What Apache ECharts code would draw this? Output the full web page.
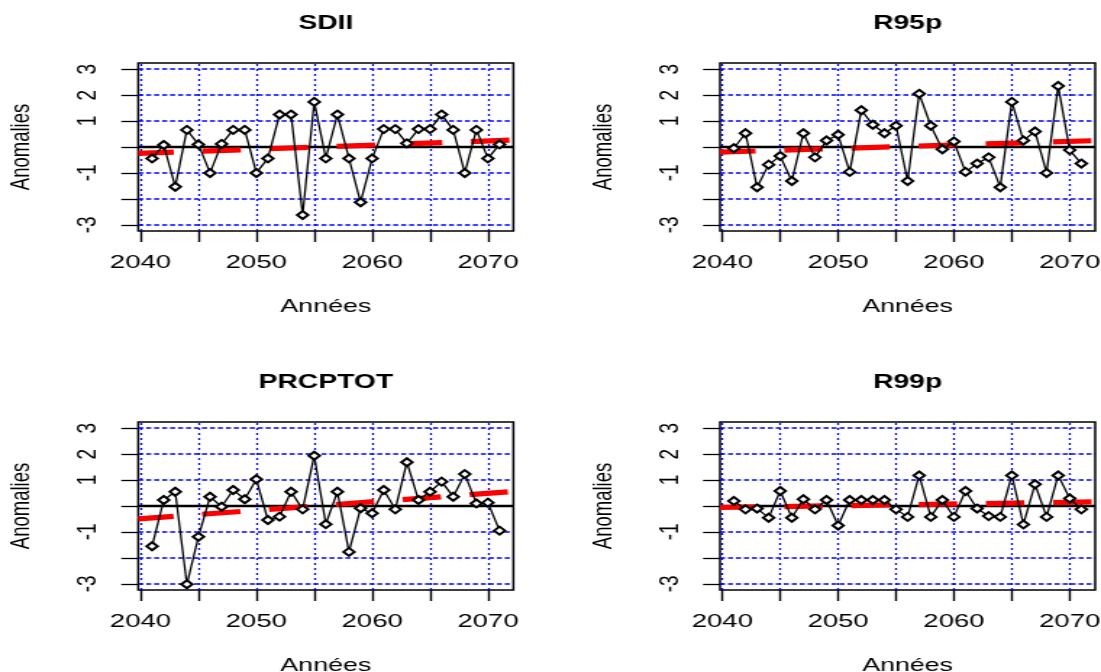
<!DOCTYPE html>
<html>
<head>
<meta charset="utf-8">
<script src="https://cdn.jsdelivr.net/npm/echarts@6/dist/echarts.min.js"></script>
<style>
html,body{margin:0;padding:0;overflow:hidden;background:#fff;}
#c{width:760px;height:672px;transform:scaleX(1.448684);transform-origin:0 0;}
</style>
</head>
<body>
<div id="c"></div>
<script>
// ---- data ----
const years = [2041,2042,2043,2044,2045,2046,2047,2048,2049,2050,2051,2052,2053,2054,2055,2056,
               2057,2058,2059,2060,2061,2062,2063,2064,2065,2066,2067,2068,2069,2070,2071];
const titles = ['SDII', 'R95p', 'PRCPTOT', 'R99p'];
const sdii    = [-0.44,0.08,-1.53,0.66,0.10,-1.00,0.12,0.66,0.66,-1.00,-0.44,1.25,1.25,-2.62,1.74,-0.44,
                 1.25,-0.44,-2.13,-0.44,0.69,0.69,0.14,0.69,0.69,1.25,0.66,-1.00,0.66,-0.44,0.10];
const r95p    = [-0.05,0.53,-1.55,-0.68,-0.35,-1.31,0.53,-0.40,0.25,0.47,-0.96,1.42,0.86,0.53,0.82,-1.31,
                 2.05,0.82,-0.09,0.21,-0.96,-0.64,-0.40,-1.55,1.74,0.25,0.60,-1.00,2.35,-0.12,-0.64];
const prcptot = [-1.55,0.23,0.55,-3.02,-1.19,0.36,-0.03,0.62,0.26,1.03,-0.54,-0.41,0.55,-0.13,1.94,-0.70,
                 0.55,-1.77,-0.09,-0.28,0.62,-0.13,1.69,0.23,0.55,0.94,0.36,1.23,0.10,0.13,-0.95];
const r99p    = [0.19,-0.13,-0.10,-0.45,0.58,-0.45,0.26,-0.13,0.23,-0.75,0.23,0.23,0.23,0.23,-0.13,-0.42,
                 1.18,-0.42,0.23,-0.42,0.58,-0.10,-0.39,-0.42,1.18,-0.71,0.84,-0.42,1.18,0.29,-0.13];
// linear trend value at first year and last year
const sdiiTrend    = [-0.23, 0.25];
const r95pTrend    = [-0.18, 0.23];
const prcptotTrend = [-0.46, 0.52];
const r99pTrend    = [-0.05, 0.15];
const xTicks  = [2040,2045,2050,2055,2060,2065,2070];
const xLabels = [2040,2050,2060,2070];
const yTicks  = [-3,-2,-1,0,1,2,3];
const yLabels = [-3,-1,1,2,3];
const xAxisName = 'Années';
const yAxisName = 'Anomalies';

// ---- layout / style ----
const FONT = '"Liberation Sans", Arial, Helvetica, sans-serif';
const X_MIN = 2039.8, X_MAX = 2072.2, Y_MIN = -3.24, Y_MAX = 3.24;
const PANEL_LEFT = [95.4, 497, 95.4, 497];
const PANEL_TOP = [63, 63, 422, 422];
const PANEL_W = 259, PANEL_H = 168;
const TITLE_TOP = [13.3, 13.3, 372.3, 372.3];

const seriesValues = [sdii, r95p, prcptot, r99p];
const seriesTrends = [sdiiTrend, r95pTrend, prcptotTrend, r99pTrend];

const grids = [], xAxes = [], yAxes = [], series = [], titleList = [];
for (let i = 0; i < 4; i++) {
  grids.push({left: PANEL_LEFT[i], top: PANEL_TOP[i], width: PANEL_W, height: PANEL_H,
    show: true, borderColor: '#000', borderWidth: 1.5, backgroundColor: 'transparent',
    containLabel: false, outerBoundsMode: 'none'});
  titleList.push({text: titles[i], left: PANEL_LEFT[i] + PANEL_W / 2, top: TITLE_TOP[i],
    textAlign: 'center', padding: 0,
    textStyle: {fontFamily: FONT, fontSize: 19.5, fontWeight: 'bold', color: '#000'}});
  xAxes.push({type: 'value', gridIndex: i, min: X_MIN, max: X_MAX,
    axisLine: {show: false, onZero: false},
    axisTick: {show: true, customValues: xTicks, length: 11, lineStyle: {color: '#000', width: 1.4}},
    axisLabel: {show: true, customValues: xLabels, margin: 22.5, color: '#000', fontSize: 19,
      fontFamily: FONT, formatter: v => String(v)},
    splitLine: {show: false},
    name: xAxisName, nameLocation: 'middle', nameGap: 66.6,
    nameTextStyle: {fontFamily: FONT, fontSize: 18.5, color: '#000'}});
  yAxes.push({type: 'value', gridIndex: i, min: Y_MIN, max: Y_MAX,
    axisLine: {show: false, onZero: false},
    axisTick: {show: true, customValues: yTicks, length: 11.7, lineStyle: {color: '#000', width: 1.3}},
    axisLabel: {show: true, customValues: yLabels, rotate: 90, margin: 25, color: '#000', fontSize: 19,
      fontFamily: FONT, formatter: v => String(v)},
    splitLine: {show: false},
    name: yAxisName, nameLocation: 'middle', nameRotate: 90, nameGap: 71,
    nameTextStyle: {fontFamily: FONT, fontSize: 18.5, color: '#000'}});

  const gridLines = [];
  xTicks.forEach(v => gridLines.push({xAxis: v,
    lineStyle: {color: '#0000ff', width: 1.3, type: [2, 3]}}));
  yTicks.forEach(v => gridLines.push({yAxis: v,
    lineStyle: {color: '#0000ff', width: 1.5, type: [3.5, 2]}}));
  gridLines.push({yAxis: 0, lineStyle: {color: '#000', width: 2.3, type: 'solid'}});

  const vals = seriesValues[i];
  series.push({type: 'line', xAxisIndex: i, yAxisIndex: i, z: 4,
    data: years.map((y, k) => [y, vals[k]]),
    symbol: 'emptyDiamond', symbolSize: [7.5, 8],
    itemStyle: {color: '#000', borderColor: '#000', borderWidth: 0.9},
    lineStyle: {color: '#000', width: 1.3},
    animation: false, silent: true,
    markLine: {z: 1, silent: true, symbol: ['none', 'none'], label: {show: false},
      animation: false, data: gridLines}});

  const t = seriesTrends[i];
  const y0 = years[0], y1 = years[years.length - 1];
  const tv = x => t[0] + (t[1] - t[0]) * (x - y0) / (y1 - y0);
  series.push({type: 'line', xAxisIndex: i, yAxisIndex: i, z: 3,
    data: [[X_MIN, tv(X_MIN)], [X_MAX, tv(X_MAX)]],
    symbol: 'none', animation: false, silent: true,
    lineStyle: {color: '#ff0000', width: 5.2, type: [26.6, 19.8], dashOffset: 2, cap: 'butt'}});
}

const chart = echarts.init(document.getElementById('c'));
chart.setOption({
  backgroundColor: '#fff',
  animation: false,
  title: titleList,
  grid: grids,
  xAxis: xAxes,
  yAxis: yAxes,
  series: series
});
</script>
</body>
</html>
